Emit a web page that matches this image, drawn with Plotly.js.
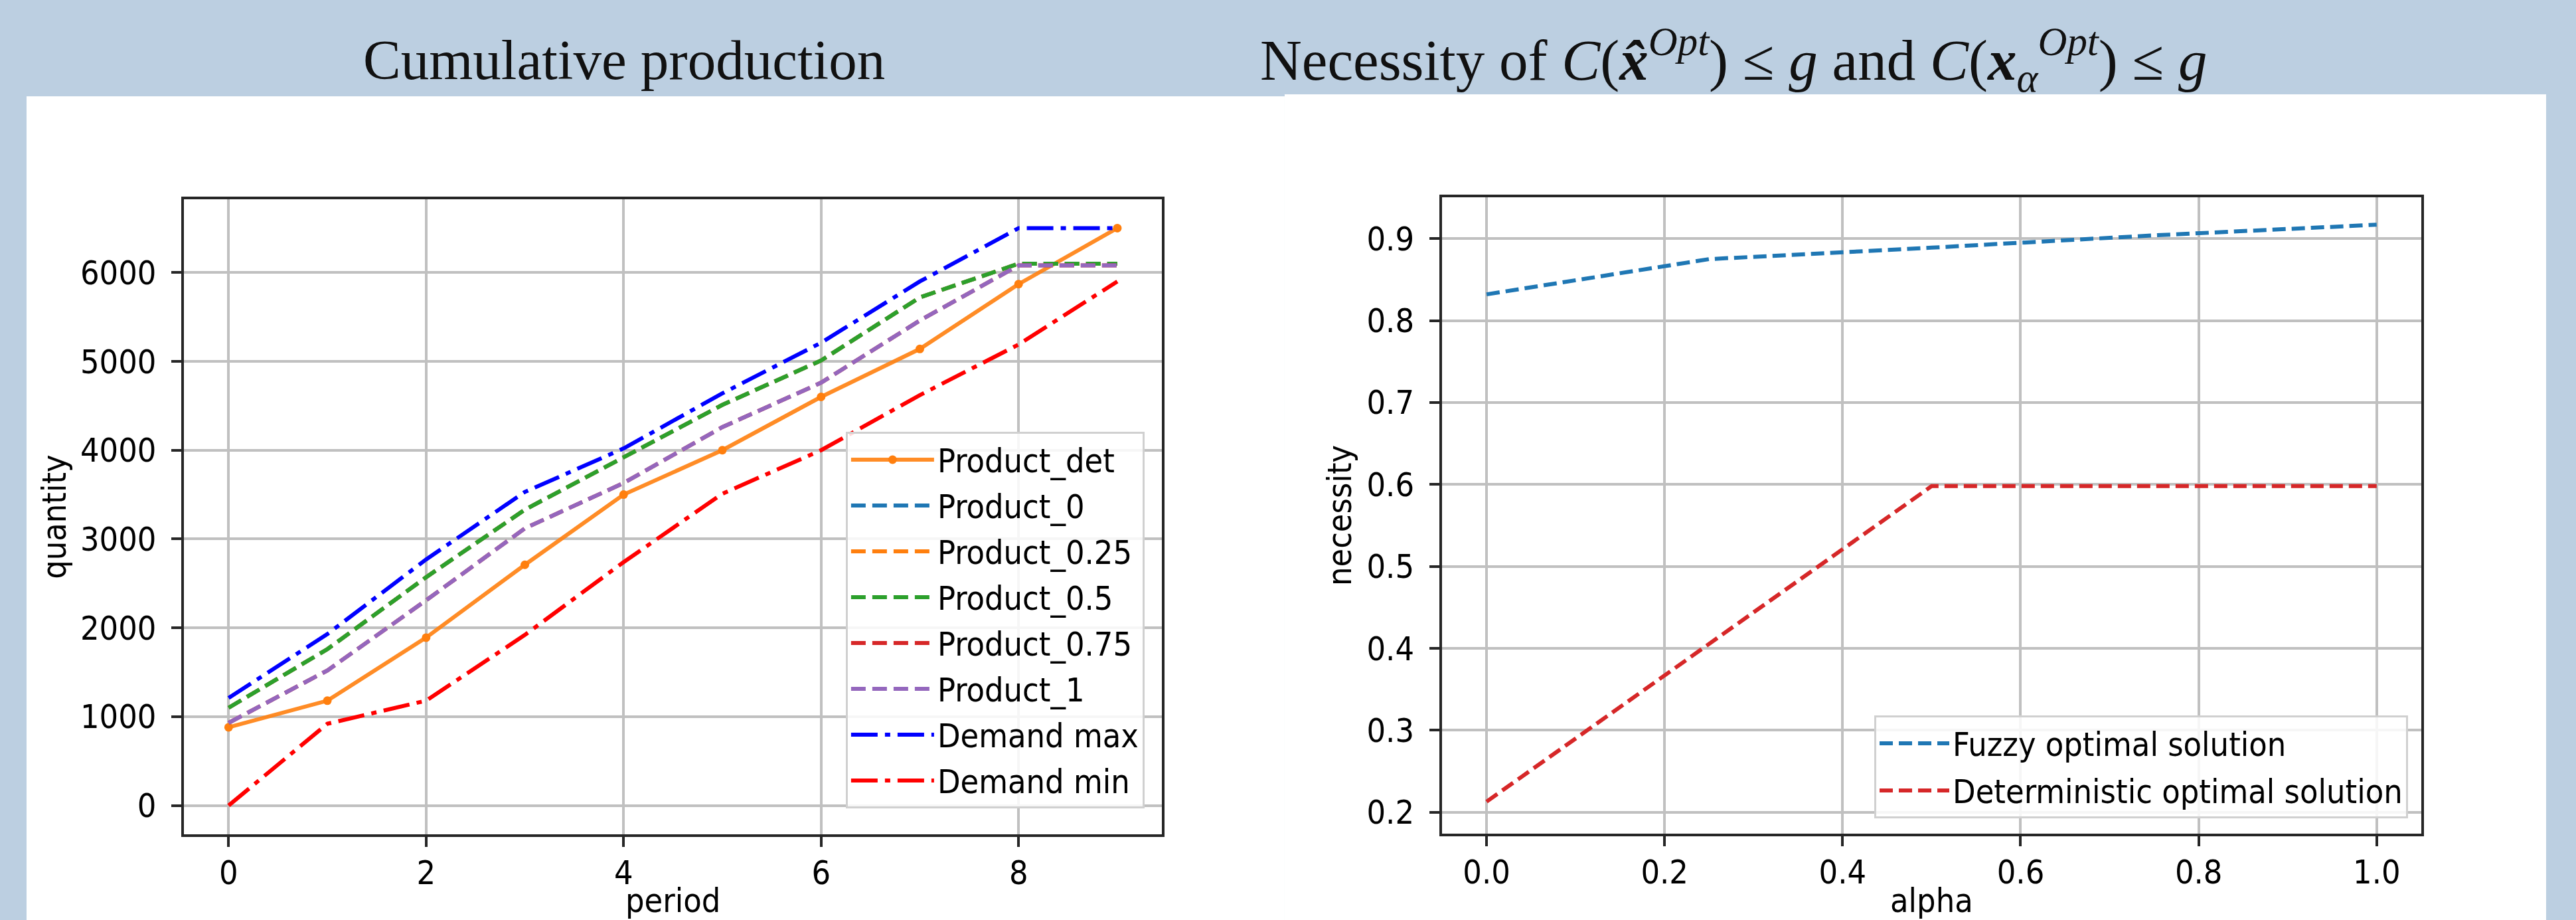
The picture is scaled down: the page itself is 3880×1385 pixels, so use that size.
<!DOCTYPE html>
<html><head><meta charset="utf-8">
<script src="https://cdn.plot.ly/plotly-3.0.1.min.js"></script>
<style>html,body{margin:0;padding:0;background:#bccfe1;overflow:hidden}</style>
</head><body><div id="chart" style="width:3880px;height:1385px"></div>
<script>
// ---- Left chart: cumulative production ----
const periods = [0,1,2,3,4,5,6,7,8,9];
const productDet = [880,1180,1890,2710,3500,4000,4600,5140,5870,6500];
const product0   = [1100,1760,2570,3330,3920,4510,5010,5720,6100,6100];
const product025 = [1100,1760,2570,3330,3920,4510,5010,5720,6100,6100];
const product05  = [1100,1760,2570,3330,3920,4510,5010,5720,6100,6100];
const product075 = [930,1520,2310,3120,3630,4260,4760,5460,6080,6080];
const product1   = [930,1520,2310,3120,3630,4260,4760,5460,6080,6080];
const demandMax  = [1210,1930,2770,3530,4020,4640,5210,5900,6500,6500];
const demandMin  = [0,920,1180,1920,2740,3510,4000,4620,5190,5900];
const leftNames = ['Product_det','Product_0','Product_0.25','Product_0.5','Product_0.75','Product_1','Demand max','Demand min'];

// ---- Right chart: necessity ----
const alphas = [0,0.25,0.5,0.75,1.0];
const fuzzyNec = [0.832,0.875,0.889,0.904,0.917];
const detNec   = [0.213,0.405,0.598,0.598,0.598];
const rightNames = ['Fuzzy optimal solution','Deterministic optimal solution'];

const FONT = 'DejaVu Sans Condensed, DejaVu Sans, sans-serif';
const TICKF = {family: FONT, size: 50, color: '#000'};
const W = 6;
const DASH = '22px,10px';
const DASHDOT = '40px,11px,8px,11px';

function ln(x, y, name, color, dash, i, legend, xa, ya, extra) {
  return Object.assign({
    x: x, y: y, name: name, type: 'scatter', mode: 'lines',
    line: {color: color, width: W, dash: dash},
    legendgroup: legend + i, legend: legend, xaxis: xa, yaxis: ya,
    hoverinfo: 'skip'
  }, extra || {});
}

const data = [
  ln(periods, productDet, leftNames[0], 'rgba(255,127,14,0.9)', 'solid', 0, 'legend', 'x', 'y',
     {mode: 'lines+markers', marker: {color: '#ff7f0e', size: 13}}),
  ln(periods, product0,   leftNames[1], '#1f77b4', DASH, 1, 'legend', 'x', 'y'),
  ln(periods, product025, leftNames[2], '#ff7f0e', DASH, 2, 'legend', 'x', 'y'),
  ln(periods, product05,  leftNames[3], '#2ca02c', DASH, 3, 'legend', 'x', 'y'),
  ln(periods, product075, leftNames[4], '#d62728', DASH, 4, 'legend', 'x', 'y'),
  ln(periods, product1,   leftNames[5], '#9467bd', DASH, 5, 'legend', 'x', 'y'),
  ln(periods, demandMax,  leftNames[6], '#0000ff', DASHDOT, 6, 'legend', 'x', 'y'),
  ln(periods, demandMin,  leftNames[7], '#ff0000', DASHDOT, 7, 'legend', 'x', 'y'),
  ln(alphas, fuzzyNec, rightNames[0], '#1f77b4', '20px,9px', 0, 'legend2', 'x2', 'y2'),
  ln(alphas, detNec,   rightNames[1], '#d62728', '20px,9px', 1, 'legend2', 'x2', 'y2')
];

const axBase = {
  showgrid: true, gridcolor: '#c0c0c0', gridwidth: 4,
  showline: true, linecolor: '#262626', linewidth: 4, mirror: true,
  ticks: 'outside', ticklen: 15, tickwidth: 4, tickcolor: '#262626',
  zeroline: false, tickfont: TICKF, automargin: false
};
function ax(o) { return Object.assign({}, axBase, o); }

const layout = {
  width: 3880, height: 1385,
  margin: {l: 0, r: 0, t: 0, b: 0},
  paper_bgcolor: '#bccfe1', plot_bgcolor: '#ffffff',
  showlegend: true,
  xaxis: ax({domain: [0.0715, 0.4510], anchor: 'y', range: [-0.45, 9.45], dtick: 2, tick0: 0,
    ticklabelstandoff: -4,
    title: {text: 'period', font: TICKF, standoff: 16}}),
  yaxis: ax({domain: [0.0931, 0.7834], anchor: 'x', range: [-325, 6825], dtick: 1000, tick0: 0, tickformat: 'd',
    ticklabelstandoff: 13,
    title: {text: 'quantity', font: TICKF, standoff: 6}}),
  xaxis2: ax({domain: [0.5598, 0.9399], anchor: 'y2', range: [-0.05, 1.05], dtick: 0.2, tick0: 0, tickformat: '.1f',
    ticklabelstandoff: -4,
    title: {text: 'alpha', font: TICKF, standoff: 16}}),
  yaxis2: ax({domain: [0.0939, 0.7856], anchor: 'x2', range: [0.174, 0.9505], dtick: 0.1, tick0: 0, tickformat: '.1f',
    ticklabelstandoff: 13,
    title: {text: 'necessity', font: TICKF, standoff: 8}}),
  legend: {x: 0.4443, y: 0.1213, xanchor: 'right', yanchor: 'bottom',
    bgcolor: 'rgba(255,255,255,0.85)', bordercolor: '#d0d0d0', borderwidth: 3,
    font: {family: FONT, size: 50, color: '#000'}, itemwidth: 125, tracegroupgap: 1,
    traceorder: 'grouped'},
  legend2: {x: 0.9348, y: 0.1105, xanchor: 'right', yanchor: 'bottom',
    bgcolor: 'rgba(255,255,255,0.85)', bordercolor: '#d0d0d0', borderwidth: 3,
    font: {family: FONT, size: 50, color: '#000'}, itemwidth: 105, tracegroupgap: 3,
    traceorder: 'grouped'},
  shapes: [
    {type: 'rect', xref: 'paper', yref: 'paper', x0: 0.0103, x1: 0.4987, y0: 0, y1: 0.8953,
     fillcolor: '#ffffff', line: {width: 0}, layer: 'below'},
    {type: 'rect', xref: 'paper', yref: 'paper', x0: 0.4987, x1: 0.9884, y0: 0, y1: 0.8975,
     fillcolor: '#ffffff', line: {width: 0}, layer: 'below'}
  ],
  annotations: [
    {xref: 'paper', yref: 'paper', x: 0.2423, y: 0.935, xanchor: 'center', yanchor: 'middle', showarrow: false,
     text: 'Cumulative production', font: {family: 'Liberation Serif, DejaVu Serif, serif', size: 85, color: '#111'}},
    {xref: 'paper', yref: 'paper', x: 0.673, y: 0.935, xanchor: 'center', yanchor: 'middle', showarrow: false,
     text: 'Necessity of <i>C</i>(<b><i>x̂</i></b><sup><i>Opt</i></sup>) ≤ <i>g</i> and <i>C</i>(<b><i>x</i></b><sub><i>α</i></sub><sup><i>Opt</i></sup>) ≤ <i>g</i>',
     font: {family: 'Liberation Serif, DejaVu Serif, serif', size: 87, color: '#111'}}
  ]
};

Plotly.newPlot('chart', data, layout, {displayModeBar: false, staticPlot: true});
</script>
</body></html>
